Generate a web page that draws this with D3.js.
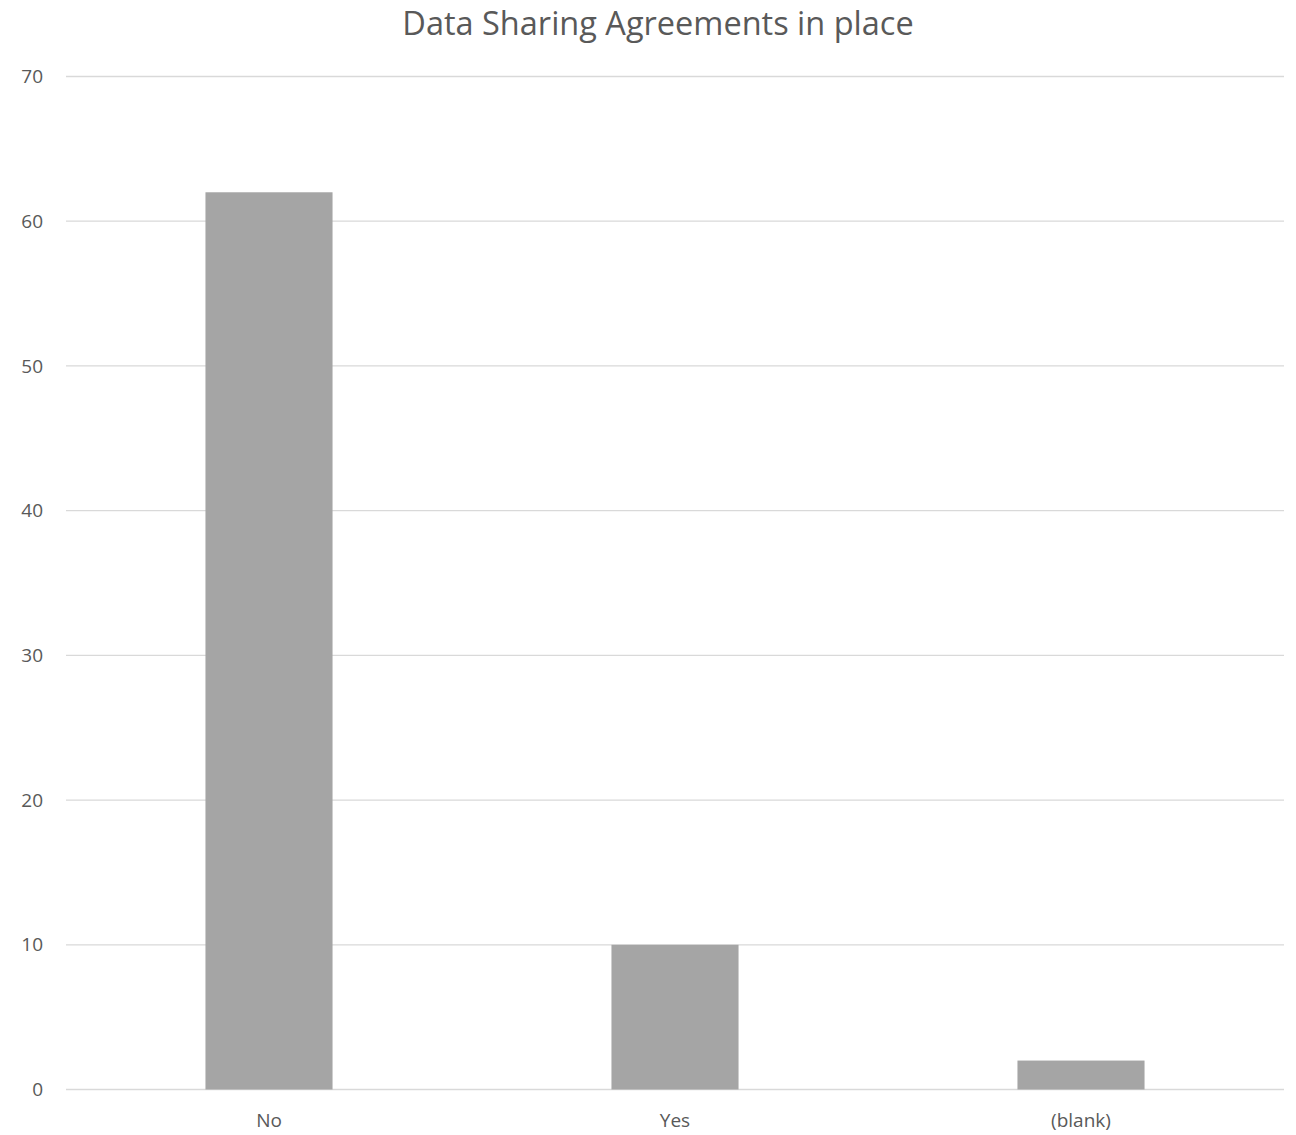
<!DOCTYPE html>
<html><head><meta charset="utf-8">
<script src="https://cdn.jsdelivr.net/npm/d3@7"></script>
<style>body{margin:0;background:#fff;}svg{display:block;}</style>
</head><body>
<script>
const categories = ["No", "Yes", "(blank)"];
const values = [62, 10, 2];
const yTicks = [0, 10, 20, 30, 40, 50, 60, 70];
const title = "Data Sharing Agreements in place";

const W = 1296, H = 1135;
const m = {left: 66, right: 12, top: 76.5, bottom: 45.5};
const svg = d3.select("body").append("svg").attr("width", W).attr("height", H);
const font = "'Open Sans', 'Noto Sans', sans-serif";

const x = d3.scaleBand().domain(categories).range([m.left, W - m.right]).paddingInner(0.687).paddingOuter(0.3435);
const y = d3.scaleLinear().domain([0, 70]).range([H - m.bottom, m.top]);

svg.append("g").selectAll("line").data(yTicks).join("line")
  .attr("x1", m.left).attr("x2", W - m.right)
  .attr("y1", d => y(d)).attr("y2", d => y(d))
  .attr("stroke", "#d9d9d9").attr("stroke-width", 1.3);

svg.append("g").selectAll("rect").data(values).join("rect")
  .attr("x", (d, i) => x(categories[i])).attr("width", x.bandwidth())
  .attr("y", d => y(d)).attr("height", d => y(0) - y(d))
  .attr("fill", "#a5a5a5");

const yAxis = d3.axisLeft(y).tickValues(yTicks).tickSize(0).tickPadding(23);
const gy = svg.append("g").attr("transform", `translate(${m.left},0)`).call(yAxis);
gy.select(".domain").remove();
gy.selectAll("text").attr("fill", "#595959").style("font-family", font).style("font-size", "19px");

const xAxis = d3.axisBottom(x).tickSize(0).tickPadding(24);
const gx = svg.append("g").attr("transform", `translate(0,${y(0)})`).call(xAxis);
gx.select(".domain").remove();
gx.selectAll("text").attr("fill", "#595959").style("font-family", font).style("font-size", "19px");

svg.append("text").attr("x", 658).attr("y", 34.5).attr("text-anchor", "middle")
  .attr("fill", "#595959").style("font-family", font).style("font-size", "32.5px")
  .text(title);
</script>
</body></html>
